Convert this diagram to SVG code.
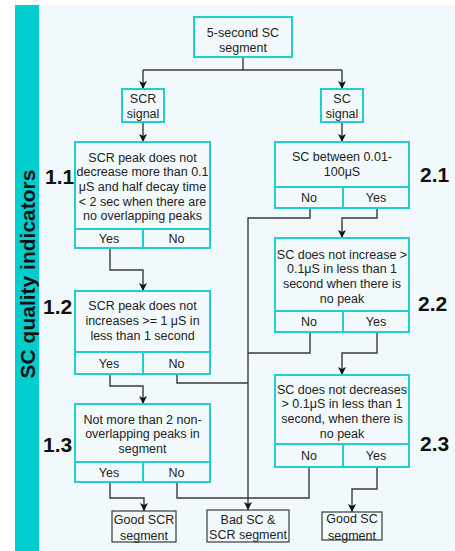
<svg xmlns="http://www.w3.org/2000/svg" width="455" height="551" viewBox="0 0 455 551">
<defs>
<style>
.bx{fill:#f3fafd;stroke:#22cfcf;stroke-width:2}
.dv{stroke:#22cfcf;stroke-width:2;fill:none}
.ob{fill:#f3fafd;stroke:#3a3a3a;stroke-width:1.2}
.t{font-family:"Liberation Sans",Arial,sans-serif;font-size:12.5px;fill:#222;text-anchor:middle}
.lb{font-family:"Liberation Sans",Arial,sans-serif;font-size:21px;font-weight:bold;fill:#111}
.cn path{fill:none;stroke:#3a3a3a;stroke-width:1.4}
</style>
<marker id="ah" markerUnits="userSpaceOnUse" markerWidth="9" markerHeight="9" refX="8" refY="4" orient="auto">
<path d="M0,0 L8,4 L0,8 L2,4 Z" fill="#111"/>
</marker>
</defs>
<rect x="0" y="0" width="455" height="551" fill="#ffffff"/>
<rect x="39" y="5" width="416" height="546" fill="#f1f9fc"/>
<rect x="15" y="5" width="24" height="546" fill="#00cdcd"/>
<text class="lb" transform="translate(35,274) rotate(-90)" text-anchor="middle">SC quality indicators</text>

<g class="cn">
<path d="M243,57 V70"/>
<path d="M143,70 H342"/>
<path d="M143,70 V89" marker-end="url(#ah)"/>
<path d="M342,70 V89" marker-end="url(#ah)"/>
<path d="M143,122 V142" marker-end="url(#ah)"/>
<path d="M342,122 V142" marker-end="url(#ah)"/>
<path d="M110,248 V270 H143 V291" marker-end="url(#ah)"/>
<path d="M110,374 V386 H143 V404" marker-end="url(#ah)"/>
<path d="M110,482 V498 H144 V511" marker-end="url(#ah)"/>
<path d="M177,374 V383 H248"/>
<path d="M177,482 V498 H248"/>
<path d="M377,208 V218 H342 V238" marker-end="url(#ah)"/>
<path d="M310,208 V218 H248 V510" marker-end="url(#ah)"/>
<path d="M377,332 V353 H342 V375" marker-end="url(#ah)"/>
<path d="M310,332 V353 H248"/>
<path d="M377,467 V489 H352 V512" marker-end="url(#ah)"/>
<path d="M309,467 V498 H248"/>
</g>

<g id="start">
<rect class="bx" x="194" y="17" width="98" height="40"/>
<text class="t" x="243" y="36.5">5-second SC</text>
<text class="t" x="243" y="51.5">segment</text>
</g>
<g id="scr-signal">
<rect class="bx" x="122" y="89" width="42" height="33"/>
<text class="t" x="143" y="102.5">SCR</text>
<text class="t" x="143" y="117.5">signal</text>
</g>
<g id="sc-signal">
<rect class="bx" x="321" y="89" width="42" height="33"/>
<text class="t" x="342" y="102.5">SC</text>
<text class="t" x="342" y="117.5">signal</text>
</g>

<g id="q1-1">
<rect class="bx" x="75" y="142" width="135" height="106"/>
<path class="dv" d="M75,229 H210 M143,229 V248"/>
<text class="t" x="142.5" y="161.5">SCR peak does not</text>
<text class="t" x="142.5" y="176.2">decrease more than 0.1</text>
<text class="t" x="142.5" y="190.9">μS and half decay time</text>
<text class="t" x="142.5" y="205.6">&lt; 2 sec when there are</text>
<text class="t" x="142.5" y="220.3">no overlapping peaks</text>
<text class="t" x="109" y="243">Yes</text>
<text class="t" x="176.5" y="243">No</text>
<text class="lb" x="45" y="184">1.1</text>
</g>

<g id="q1-2">
<rect class="bx" x="75" y="291" width="135" height="83"/>
<path class="dv" d="M75,352 H210 M143,352 V374"/>
<text class="t" x="142.5" y="309.5">SCR peak does not</text>
<text class="t" x="142.5" y="324.5">increases &gt;= 1 μS in</text>
<text class="t" x="142.5" y="339.5">less than 1 second</text>
<text class="t" x="109" y="367.5">Yes</text>
<text class="t" x="176.5" y="367.5">No</text>
<text class="lb" x="43" y="314">1.2</text>
</g>

<g id="q1-3">
<rect class="bx" x="75" y="404" width="135" height="78"/>
<path class="dv" d="M75,462 H210 M143,462 V482"/>
<text class="t" x="142.5" y="423.5">Not more than 2 non-</text>
<text class="t" x="142.5" y="438.2">overlapping peaks in</text>
<text class="t" x="142.5" y="452.9">segment</text>
<text class="t" x="109" y="476.5">Yes</text>
<text class="t" x="176.5" y="476.5">No</text>
<text class="lb" x="43" y="452">1.3</text>
</g>

<g id="q2-1">
<rect class="bx" x="275" y="142" width="134" height="66"/>
<path class="dv" d="M275,187 H409 M343,187 V208"/>
<text class="t" x="342" y="160.5">SC between 0.01-</text>
<text class="t" x="342" y="175.5">100μS</text>
<text class="t" x="309" y="202">No</text>
<text class="t" x="376" y="202">Yes</text>
<text class="lb" x="420" y="182">2.1</text>
</g>

<g id="q2-2">
<rect class="bx" x="275" y="238" width="134" height="94"/>
<path class="dv" d="M275,311 H409 M343,311 V332"/>
<text class="t" x="342" y="258.5">SC does not increase &gt;</text>
<text class="t" x="342" y="273.2">0.1μS in less than 1</text>
<text class="t" x="342" y="287.9">second when there is</text>
<text class="t" x="342" y="302.6">no peak</text>
<text class="t" x="309" y="326">No</text>
<text class="t" x="376" y="326">Yes</text>
<text class="lb" x="418" y="311">2.2</text>
</g>

<g id="q2-3">
<rect class="bx" x="275" y="375" width="134" height="92"/>
<path class="dv" d="M275,444 H409 M343,444 V467"/>
<text class="t" x="342" y="393.5">SC does not decreases</text>
<text class="t" x="342" y="408.2">&gt; 0.1μS in less than 1</text>
<text class="t" x="342" y="422.9">second, when there is</text>
<text class="t" x="342" y="437.6">no peak</text>
<text class="t" x="309" y="460">No</text>
<text class="t" x="376" y="460">Yes</text>
<text class="lb" x="420" y="451">2.3</text>
</g>

<g id="good-scr">
<rect class="ob" x="112" y="511" width="64" height="31"/>
<text class="t" x="144" y="523.5">Good SCR</text>
<text class="t" x="144" y="539.5">segment</text>
</g>
<g id="bad">
<rect class="ob" x="207" y="510" width="82" height="32"/>
<text class="t" x="248" y="523.5">Bad SC &amp;</text>
<text class="t" x="248" y="538.5">SCR segment</text>
</g>
<g id="good-sc">
<rect class="ob" x="322" y="512" width="60" height="28"/>
<text class="t" x="352" y="522.5">Good SC</text>
<text class="t" x="352" y="539.5">segment</text>
</g>
</svg>
